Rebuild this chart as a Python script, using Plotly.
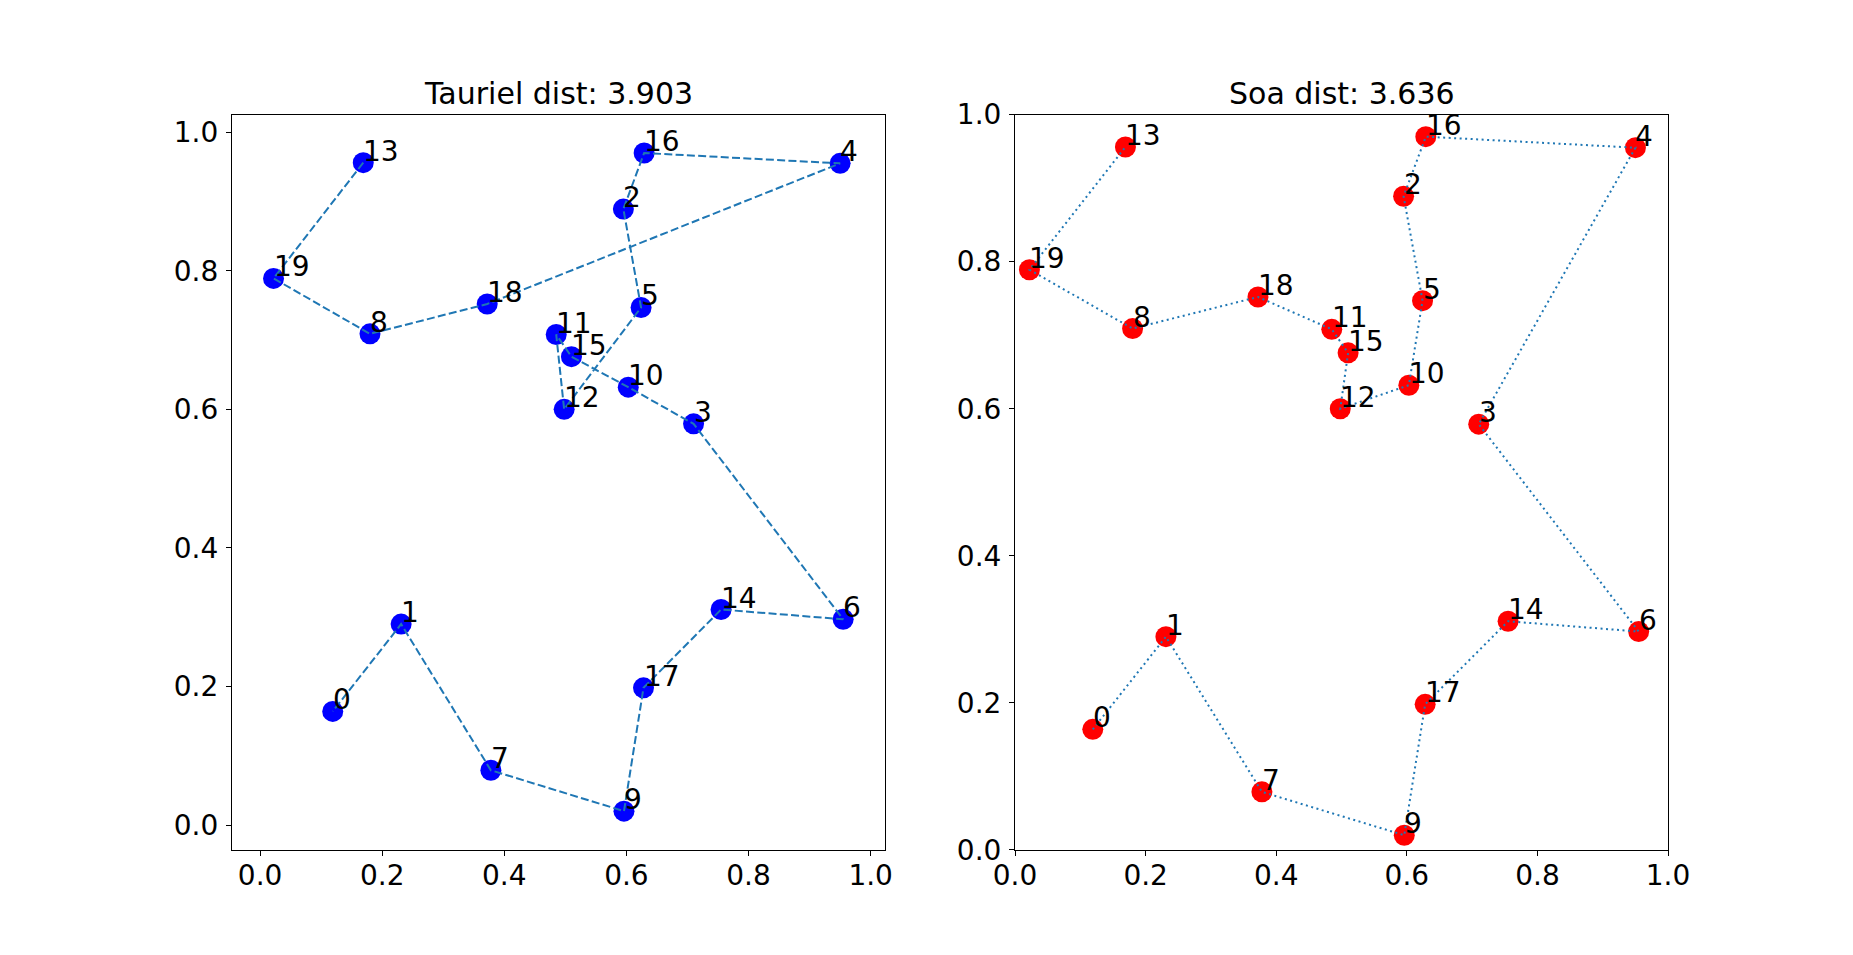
"""
Tour comparison plot: the Tauriel and Soa routes over the same 20 cities.
"""
import plotly.graph_objects as go
from plotly.subplots import make_subplots

# City coordinates, list index = city number
city_x = [0.119, 0.231, 0.595, 0.710, 0.950, 0.624, 0.955, 0.378, 0.180, 0.596,
          0.603, 0.485, 0.498, 0.169, 0.755, 0.510, 0.629, 0.628, 0.372, 0.022]
city_y = [0.164, 0.290, 0.889, 0.579, 0.955, 0.747, 0.297, 0.079, 0.709, 0.020,
          0.632, 0.708, 0.600, 0.956, 0.311, 0.676, 0.970, 0.198, 0.752, 0.789]
city_labels = [str(i) for i in range(len(city_x))]

# Visiting order of each solver (open path)
tauriel_tour = [13, 19, 8, 18, 4, 16, 2, 5, 12, 11, 15, 10, 3, 6, 14, 17, 9, 7, 1, 0]
soa_tour = [0, 1, 7, 9, 17, 14, 6, 3, 4, 16, 2, 5, 10, 12, 15, 11, 18, 8, 19, 13]

tauriel_dist = 3.903
soa_dist = 3.636

tick_values = [0.0, 0.2, 0.4, 0.6, 0.8, 1.0]
tick_labels = ["0.0", "0.2", "0.4", "0.6", "0.8", "1.0"]

FONT = "DejaVu Sans"
FONT_SIZE = 28
TITLE_SIZE = 30
LINE_COLOR = "#1f77b4"


def add_panel(fig, col, tour, marker_color, dash):
    """Draw the cities, the tour path and the city numbers in one panel."""
    # cities
    fig.add_trace(
        go.Scatter(
            x=city_x,
            y=city_y,
            mode="markers",
            marker=dict(color=marker_color, size=21, line=dict(width=0)),
            showlegend=False,
            hoverinfo="skip"
        ),
        row=1, col=col
    )
    # path, drawn on top of the dots like matplotlib does
    fig.add_trace(
        go.Scatter(
            x=[city_x[i] for i in tour],
            y=[city_y[i] for i in tour],
            mode="lines",
            line=dict(color=LINE_COLOR, width=2, dash=dash),
            showlegend=False,
            hoverinfo="skip"
        ),
        row=1, col=col
    )
    # city numbers, left/baseline anchored at each point
    xref = "x" if col == 1 else "x2"
    yref = "y" if col == 1 else "y2"
    for cx, cy, label in zip(city_x, city_y, city_labels):
        fig.add_annotation(
            x=cx, y=cy, xref=xref, yref=yref,
            text=label, showarrow=False,
            xanchor="left", yanchor="bottom",
            xshift=-2, yshift=-7,
            font=dict(family=FONT, size=FONT_SIZE, color="black")
        )


fig = make_subplots(rows=1, cols=2)

add_panel(fig, 1, tauriel_tour, "#0000ff", "8px,3.3px")
add_panel(fig, 2, soa_tour, "#ff0000", "2px,3.5px")

# Panel titles
for col, name, dist in [(1, "Tauriel", tauriel_dist), (2, "Soa", soa_dist)]:
    suffix = "" if col == 1 else "2"
    fig.add_annotation(
        x=0.5, y=1, xref=f"x{suffix} domain", yref=f"y{suffix} domain",
        text=f"{name} dist: {dist:.3f}", showarrow=False,
        xanchor="center", yanchor="bottom", yshift=2,
        font=dict(family=FONT, size=TITLE_SIZE, color="black")
    )

# Axes styling (matplotlib look: black frame, outside ticks, no grid)
axis_style = dict(
    showgrid=False, zeroline=False, automargin=False,
    showline=True, linecolor="black", linewidth=1.2, mirror=True,
    ticks="outside", ticklen=5, tickwidth=1.2, tickcolor="black",
    tickvals=tick_values, ticktext=tick_labels,
    tickfont=dict(family=FONT, size=FONT_SIZE, color="black")
)
fig.update_xaxes(**axis_style)
fig.update_yaxes(**axis_style)
fig.update_xaxes(ticklabelstandoff=-5)
fig.update_yaxes(ticklabelstandoff=2)

fig.update_xaxes(domain=[0.1252, 0.4776], range=[-0.046, 1.0235], row=1, col=1)
fig.update_yaxes(domain=[0.11, 0.88], range=[-0.036, 1.0254], row=1, col=1)
fig.update_xaxes(domain=[0.5478, 0.9002], range=[0.0, 1.0], row=1, col=2)
fig.update_yaxes(domain=[0.11, 0.88], range=[0.0, 1.0], row=1, col=2)

# Update layout
fig.update_layout(
    template="none",
    width=1853,
    height=955,
    margin=dict(l=0, r=0, t=0, b=0, pad=0),
    plot_bgcolor="white",
    paper_bgcolor="white",
    font=dict(family=FONT, color="black")
)

# page without body margin so the figure sits at the window origin
fig.write_html(
    "out.html",
    config={"displayModeBar": False},
    post_script="document.body.style.margin='0';document.body.style.overflow='hidden';"
)
